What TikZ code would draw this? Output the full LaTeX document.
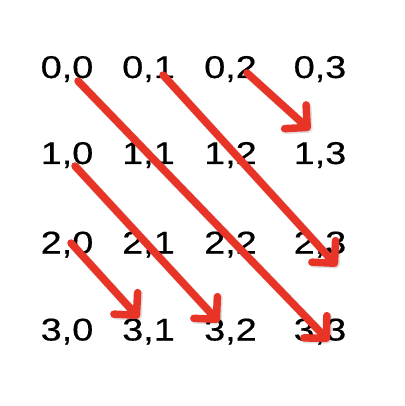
\documentclass[tikz,border=0pt]{standalone}
\usepackage{fontspec}
\setmainfont{Liberation Sans}
\newfontfamily\lblfont{Liberation Sans}[FakeBold=0.4]
\usetikzlibrary{arrows.meta}
\definecolor{arrowred}{RGB}{232,52,38}
\tikzset{
  lbl/.style={anchor=base, inner sep=0pt, font=\lblfont\fontsize{31.5}{33}\selectfont},
  diag/.style={draw=arrowred, line width=7.5pt, line cap=round, line join=round,
    -{Straight Barb[length=16pt, width=32pt, line cap=round, line join=round]},
    preaction={draw=black, opacity=0.12, line width=8.5pt,
      transform canvas={shift={(1.5pt,-1.5pt)}}}}
}
\newcommand{\wide}[1]{\scalebox{1.2}[1]{#1}}
\begin{document}
\begin{tikzpicture}[x=1pt, y=-1pt]
\useasboundingbox (0,0) rectangle (404,406);
% labels
\foreach \r/\yy in {0/78,1/164,2/253.5,3/340.5}{
  \foreach \c/\xx in {0/67,1/148.5,2/230.5,3/320}{
    \node[lbl] (n\r\c) at (\xx,\yy) {\wide{\r,\c}};
  }
}
% arrow ends
\coordinate (s1) at (78,81);   \coordinate (e1) at (329,341);
\coordinate (s2) at (163,75);  \coordinate (e2) at (337,266);
\coordinate (s3) at (247,73);  \coordinate (e3) at (310,130);
\coordinate (s4) at (75,166);  \coordinate (e4) at (219,322);
\coordinate (s5) at (71,243);  \coordinate (e5) at (139,318);
\draw[diag] (s1) -- (e1);
\draw[diag] (s2) -- (e2);
\draw[diag] (s3) -- (e3);
\draw[diag] (s4) -- (e4);
\draw[diag] (s5) -- (e5);
\end{tikzpicture}
\end{document}
